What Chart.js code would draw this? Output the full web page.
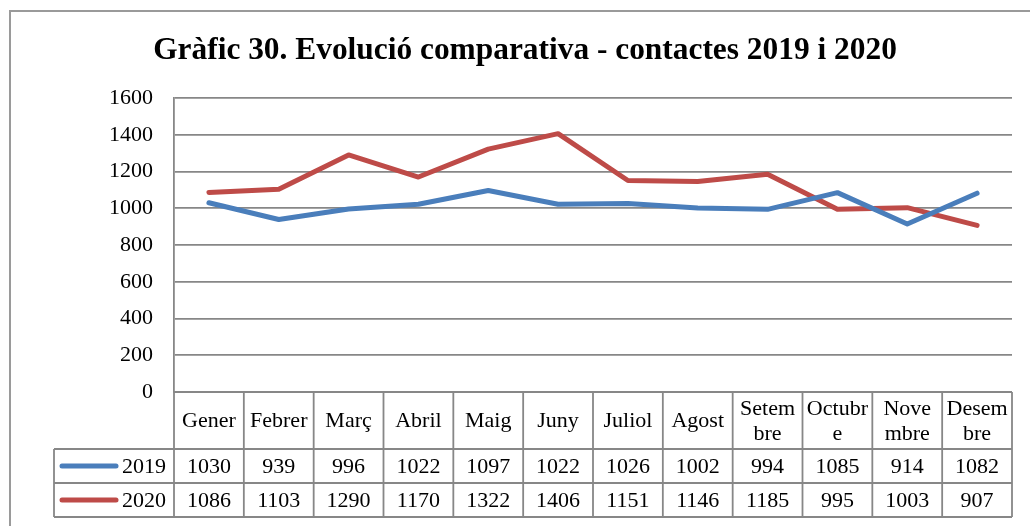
<!DOCTYPE html>
<html lang="ca">
<head>
  <meta charset="UTF-8" />
  <title>Gràfic 30. Evolució comparativa - contactes 2019 i 2020</title>
  <script src="https://cdn.jsdelivr.net/npm/chart.js"></script>
  <style>
    html, body { margin: 0; padding: 0; background: #fff; }
    canvas { display: block; }
  </style>
</head>
<body>
  <canvas id="grafic" width="1030" height="526"></canvas>

  <script>
    // dades llegides del gràfic
    const titol = 'Gràfic 30. Evolució comparativa - contactes 2019 i 2020';
    const mesos = ['Gener', 'Febrer', 'Març', 'Abril', 'Maig', 'Juny', 'Juliol', 'Agost',
      ['Setem', 'bre'], ['Octubr', 'e'], ['Nove', 'mbre'], ['Desem', 'bre']];
    const anys = ['2019', '2020'];
    const contactes2019 = [1030, 939, 996, 1022, 1097, 1022, 1026, 1002, 994, 1085, 914, 1082];
    const contactes2020 = [1086, 1103, 1290, 1170, 1322, 1406, 1151, 1146, 1185, 995, 1003, 907];
    const marquesY = [0, 200, 400, 600, 800, 1000, 1200, 1400, 1600];

    const colors = ['#4a7ebb', '#be4b48'];
    const gris = '#878787';
    const lletra = '"Liberation Serif", "DejaVu Serif", serif';
    const midaText = 22;

    // marc exterior i títol
    const fons = {
      id: 'fons',
      beforeDraw(chart) {
        const ctx = chart.ctx;
        ctx.save();
        ctx.fillStyle = '#fff';
        ctx.fillRect(0, 0, chart.width, chart.height);
        ctx.strokeStyle = '#9a9a9a';
        ctx.lineWidth = 2;
        ctx.strokeRect(10, 11, chart.width + 40, chart.height + 40);

        let mida = 28;
        ctx.font = `bold ${mida}px ${lletra}`;
        mida = mida * 744 / ctx.measureText(titol).width;
        ctx.font = `bold ${mida}px ${lletra}`;
        ctx.fillStyle = '#000';
        ctx.textAlign = 'center';
        ctx.textBaseline = 'alphabetic';
        ctx.fillText(titol, 525, 59);
        ctx.restore();
      }
    };

    // taula de dades sota l'eix
    const taula = {
      id: 'taula',
      afterDraw(chart) {
        const { ctx, chartArea: a, scales: { x } } = chart;
        const mig = (x.getPixelForValue(1) - x.getPixelForValue(0)) / 2;
        const dalt = a.bottom;
        const capH = 57, filaH = 34, esq = 54;
        const fila1 = dalt + capH;
        const baix = fila1 + filaH * chart.data.datasets.length;

        ctx.save();
        ctx.strokeStyle = gris;
        ctx.lineWidth = 1.8;
        ctx.beginPath();
        ctx.moveTo(a.left, dalt); ctx.lineTo(a.right, dalt);
        for (let r = 0; r <= chart.data.datasets.length; r++) {
          const y = fila1 + r * filaH;
          ctx.moveTo(esq, y); ctx.lineTo(a.right, y);
        }
        ctx.moveTo(esq, fila1); ctx.lineTo(esq, baix);
        chart.data.labels.forEach((_, i) => {
          const c = x.getPixelForValue(i);
          ctx.moveTo(c - mig, dalt); ctx.lineTo(c - mig, baix);
          if (i === chart.data.labels.length - 1) {
            ctx.moveTo(c + mig, dalt); ctx.lineTo(c + mig, baix);
          }
        });
        ctx.stroke();

        ctx.fillStyle = '#000';
        ctx.font = `${midaText}px ${lletra}`;
        ctx.textAlign = 'center';
        ctx.textBaseline = 'middle';
        chart.data.labels.forEach((lab, i) => {
          const c = x.getPixelForValue(i);
          const linies = Array.isArray(lab) ? lab : [lab];
          const centre = dalt + capH / 2 + 1;
          linies.forEach((t, k) => {
            ctx.fillText(t, c, centre + (k - (linies.length - 1) / 2) * 25);
          });
        });

        chart.data.datasets.forEach((ds, r) => {
          const y = fila1 + r * filaH + filaH / 2 + 1;
          ds.data.forEach((v, i) => {
            ctx.fillText(String(v), x.getPixelForValue(i), y);
          });
          ctx.strokeStyle = ds.borderColor;
          ctx.lineWidth = 5;
          ctx.lineCap = 'round';
          ctx.beginPath();
          ctx.moveTo(62, y - 1); ctx.lineTo(116, y - 1);
          ctx.stroke();
          ctx.textAlign = 'right';
          ctx.fillText(ds.label, 166, y);
          ctx.textAlign = 'center';
        });
        ctx.restore();
      }
    };

    new Chart(document.getElementById('grafic'), {
      type: 'line',
      data: {
        labels: mesos,
        datasets: [
          { label: anys[0], data: contactes2019, borderColor: colors[0], backgroundColor: colors[0] },
          { label: anys[1], data: contactes2020, borderColor: colors[1], backgroundColor: colors[1] }
        ]
      },
      options: {
        responsive: false,
        animation: false,
        layout: { padding: { top: 98, bottom: 134, left: 0, right: 18 } },
        elements: {
          line: { borderWidth: 5, tension: 0, borderCapStyle: 'round', borderJoinStyle: 'round' },
          point: { radius: 0, hoverRadius: 0 }
        },
        plugins: {
          legend: { display: false },
          title: { display: false },
          tooltip: { enabled: false }
        },
        scales: {
          x: {
            display: false,
            offset: true
          },
          y: {
            min: marquesY[0],
            max: marquesY[marquesY.length - 1],
            afterFit: s => { s.width = 174; },
            ticks: {
              stepSize: marquesY[1] - marquesY[0],
              padding: 21,
              color: '#000',
              font: { family: lletra, size: midaText },
              callback: v => String(v)
            },
            grid: { color: gris, lineWidth: 1.8, drawTicks: false },
            border: { display: true, color: gris, width: 1.8 }
          }
        }
      },
      plugins: [fons, taula]
    });
  </script>
</body>
</html>
